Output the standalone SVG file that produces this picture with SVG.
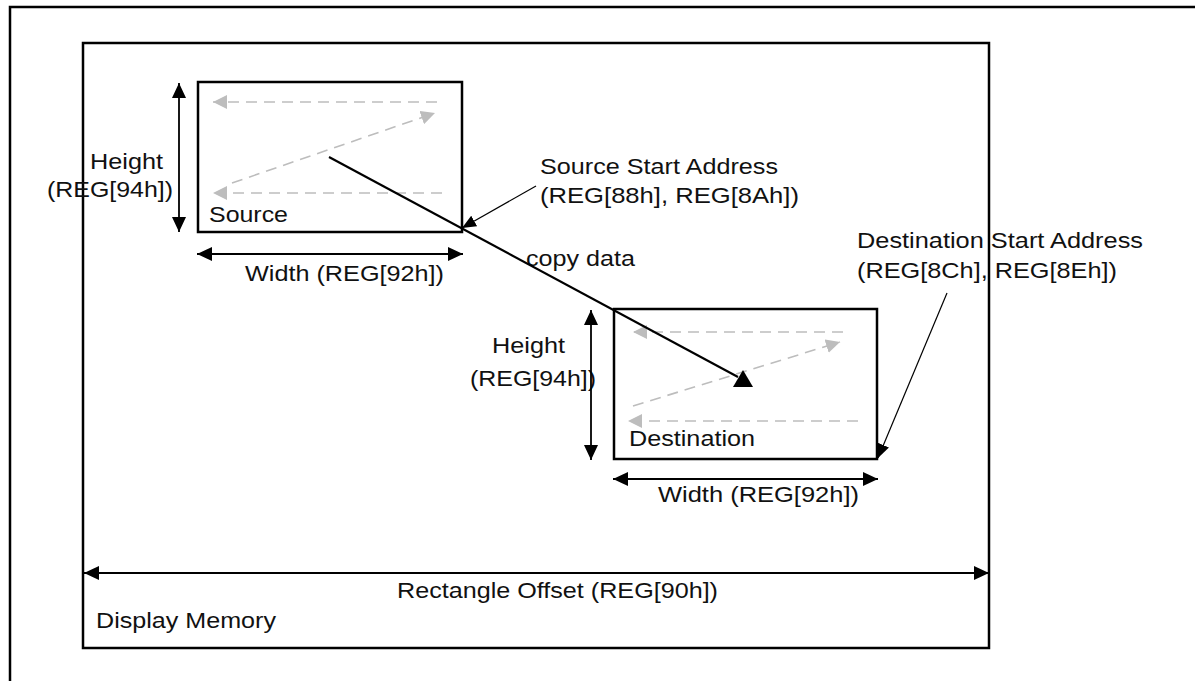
<svg xmlns="http://www.w3.org/2000/svg" width="1195" height="681" viewBox="0 0 1195 681">
<style>
  .box{fill:none;stroke:#000;stroke-width:2.5}
  .dim{stroke:#000;stroke-width:1.8;fill:none}
  .lead{stroke:#000;stroke-width:1.2;fill:none}
  .copy{stroke:#000;stroke-width:2.2;fill:none}
  .gray{stroke:#bdbdbd;stroke-width:1.6;stroke-dasharray:11 7;fill:none}
  text{font-family:"Liberation Sans",Arial,sans-serif;font-size:22px;fill:#111}
</style>
<defs>
  <marker id="ah" markerUnits="userSpaceOnUse" markerWidth="16" markerHeight="14" refX="15" refY="7" orient="auto-start-reverse">
    <path d="M0,0 L15,7 L0,14 z" fill="#000"/>
  </marker>
  <marker id="ahs" markerUnits="userSpaceOnUse" markerWidth="16" markerHeight="14" refX="14" refY="7" orient="auto">
    <path d="M0,1 L14,7 L0,13 z" fill="#000"/>
  </marker>
  <marker id="gh" markerUnits="userSpaceOnUse" markerWidth="16" markerHeight="14" refX="14" refY="7" orient="auto">
    <path d="M0,0 L14,7 L0,14 z" fill="#bdbdbd"/>
  </marker>
</defs>
<rect width="1195" height="681" fill="#fff"/>

<g id="outer-frame">
  <rect class="box" x="10" y="7" width="1200" height="700"/>
</g>

<g id="display-memory">
  <rect class="box" x="83" y="43" width="906" height="605"/>
  <text x="96" y="628" textLength="180" lengthAdjust="spacingAndGlyphs">Display Memory</text>
</g>

<g id="source">
  <rect class="box" x="198" y="82" width="264" height="150"/>
  <line class="gray" x1="437" y1="102" x2="213" y2="102" marker-end="url(#gh)"/>
  <line class="gray" x1="232" y1="183" x2="435" y2="113" marker-end="url(#gh)"/>
  <line class="gray" x1="442" y1="193" x2="213" y2="193" marker-end="url(#gh)"/>
  <text x="209" y="222" textLength="79" lengthAdjust="spacingAndGlyphs">Source</text>
</g>

<g id="destination">
  <rect class="box" x="614" y="309" width="263" height="150"/>
  <line class="gray" x1="843" y1="332" x2="633" y2="332" marker-end="url(#gh)"/>
  <line class="gray" x1="633" y1="406" x2="840" y2="342" marker-end="url(#gh)"/>
  <line class="gray" x1="858" y1="421" x2="628" y2="421" marker-end="url(#gh)"/>
  <text x="629" y="446" textLength="126" lengthAdjust="spacingAndGlyphs">Destination</text>
</g>

<g id="source-height-label">
  <text x="90" y="169" textLength="73" lengthAdjust="spacingAndGlyphs">Height</text>
  <text x="47" y="197" textLength="126" lengthAdjust="spacingAndGlyphs">(REG[94h])</text>
</g>
<g id="source-width-label">
  <text x="245" y="281" textLength="199" lengthAdjust="spacingAndGlyphs">Width (REG[92h])</text>
</g>
<g id="source-address-label">
  <text x="540" y="174" textLength="238" lengthAdjust="spacingAndGlyphs">Source Start Address</text>
  <text x="540" y="203" textLength="259" lengthAdjust="spacingAndGlyphs">(REG[88h], REG[8Ah])</text>
</g>
<g id="copy-label">
  <text x="526" y="266" textLength="109" lengthAdjust="spacingAndGlyphs">copy data</text>
</g>
<g id="dest-height-label">
  <text x="492" y="353" textLength="73" lengthAdjust="spacingAndGlyphs">Height</text>
  <text x="470" y="386" textLength="126" lengthAdjust="spacingAndGlyphs">(REG[94h])</text>
</g>
<g id="dest-width-label">
  <text x="658" y="502" textLength="201" lengthAdjust="spacingAndGlyphs">Width (REG[92h])</text>
</g>
<g id="dest-address-label">
  <text x="857" y="248" textLength="286" lengthAdjust="spacingAndGlyphs">Destination Start Address</text>
  <text x="857" y="278" textLength="260" lengthAdjust="spacingAndGlyphs">(REG[8Ch], REG[8Eh])</text>
</g>
<g id="offset-label">
  <text x="397" y="598" textLength="321" lengthAdjust="spacingAndGlyphs">Rectangle Offset (REG[90h])</text>
</g>

<g id="connectors">
  <line class="dim" x1="179" y1="83" x2="179" y2="232" marker-start="url(#ah)" marker-end="url(#ah)"/>
  <line class="dim" x1="197" y1="254" x2="463" y2="254" marker-start="url(#ah)" marker-end="url(#ah)"/>
  <line class="dim" x1="591" y1="310" x2="591" y2="460" marker-start="url(#ah)" marker-end="url(#ah)"/>
  <line class="dim" x1="613" y1="479" x2="878" y2="479" marker-start="url(#ah)" marker-end="url(#ah)"/>
  <line class="dim" x1="84" y1="573" x2="989" y2="573" marker-start="url(#ah)" marker-end="url(#ah)"/>
  <line class="lead" x1="536" y1="186" x2="462" y2="228" marker-end="url(#ahs)"/>
  <line class="lead" x1="947" y1="293" x2="878" y2="458" marker-end="url(#ahs)"/>
  <line class="copy" x1="329" y1="157" x2="738" y2="377"/>
  <polygon points="733,387 753,387 743,370" fill="#000"/>
</g>
</svg>
